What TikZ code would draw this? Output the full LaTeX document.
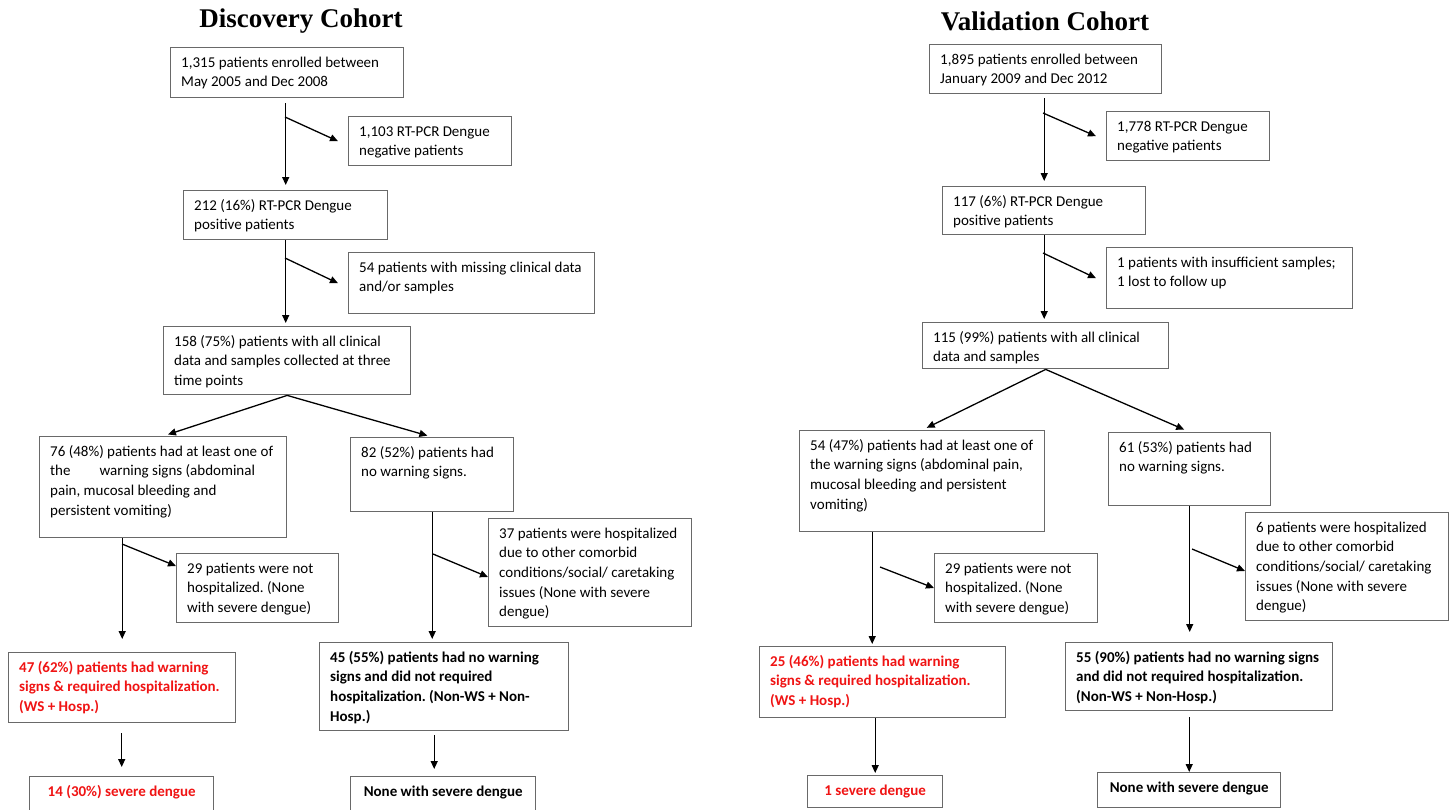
\documentclass[tikz,border=0pt]{standalone}
\usepackage{fontspec}
\setmainfont{Carlito}
\newfontfamily\ttlfont{Liberation Serif}
\usetikzlibrary{arrows.meta}
\definecolor{boxgray}{RGB}{105,105,105}
\definecolor{wred}{RGB}{240,20,20}
\frenchspacing
\newcommand\mkbox[7]{%
  \node[boxst, minimum width=#4pt, minimum height=#5pt, anchor=north west] (#1) at (#2,#3) {};
  \node[txtst, #6, anchor=base west] (#1-t) at ([shift={(11,20)}]#1.north west) {\begin{tabular}[t]{@{}l@{}}#7\end{tabular}};}
\newcommand\mkcbox[7]{%
  \node[boxst, minimum width=#4pt, minimum height=#5pt, anchor=north west] (#1) at (#2,#3) {};
  \node[txtst, #6, anchor=base] (#1-t) at ([shift={(0,20)}]#1.north) {#7};}
\begin{document}
\begin{tikzpicture}[x=1pt,y=-1pt,
  boxst/.style={draw=boxgray, line width=1.4pt, inner sep=0pt},
  txtst/.style={inner sep=0pt, font=\fontsize{15}{19.7}\selectfont\frenchspacing, text=black},
  redt/.style={text=wred, font=\fontsize{15}{19.7}\selectfont\bfseries\frenchspacing},
  boldt/.style={font=\fontsize{15}{19.7}\selectfont\bfseries\frenchspacing},
  plain/.style={},
  arr/.style={line width=1.3pt, -{Triangle[length=8pt,width=7pt]}},
  ttl/.style={font=\ttlfont\bfseries\fontsize{27}{30}\selectfont, inner sep=0pt}]
\useasboundingbox (0,0) rectangle (1450,809);
\fill[white] (0,0) rectangle (1450,809);
\clip (0,0) rectangle (1450,809);

\node[ttl] (t1) at (301,21) {Discovery Cohort};
\node[ttl] (t2) at (1045,21) {Validation Cohort};

% ---------------- Discovery cohort
\mkbox{A1}{170}{47}{233}{50}{plain}{1,315 patients enrolled between\\May 2005 and Dec 2008}
\mkbox{A2}{348}{116}{163}{49}{plain}{1,103 RT-PCR Dengue\\negative patients}
\mkbox{A3}{183}{190}{204}{49}{plain}{212 (16\%) RT-PCR Dengue\\positive patients}
\mkbox{A4}{348}{252}{246}{61}{plain}{54 patients with missing clinical data\\and/or samples}
\mkbox{A5}{163}{326}{247}{68}{plain}{158 (75\%) patients with all clinical\\data and samples collected at three\\time points}
\mkbox{A6}{39}{436}{247}{101}{plain}{76 (48\%) patients had at least one of\\the\hspace{29pt}warning signs (abdominal\\pain, mucosal bleeding and\\persistent vomiting)}
\mkbox{A7}{350}{437}{163}{74}{plain}{82 (52\%) patients had\\no warning signs.}
\mkbox{B}{176}{553}{162}{69}{plain}{29 patients were not\\hospitalized. (None\\with severe dengue)}
\mkbox{C}{488}{518}{203}{108}{plain}{37 patients were hospitalized\\due to other comorbid\\conditions/social/ caretaking\\issues (None with severe\\dengue)}
\mkbox{R1}{8}{652}{227}{70}{redt}{47 (62\%) patients had warning\\signs \& required hospitalization.\\(WS + Hosp.)}
\mkcbox{R2}{29}{776}{184}{60}{redt}{14 (30\%) severe dengue}
\mkbox{D}{319}{642}{249}{88}{boldt}{45 (55\%) patients had no warning\\signs and did not required\\hospitalization. (Non-WS + Non-\\Hosp.)}
\mkcbox{E}{350}{776}{185}{60}{boldt}{None with severe dengue}

\draw[arr, shorten <=5pt, shorten >=5pt] (A1.south -| A3.north) -- (A3.north);
\coordinate (b1s) at (285,117);
\draw[arr] (b1s) -- ([xshift=-10pt]A2.west);
\draw[arr, shorten >=3pt] (A3.south) -- (A3.south |- A5.north);
\coordinate (b2s) at (285,258);
\draw[arr] (b2s) -- ([xshift=-10pt]A4.west);
\draw[arr, shorten >=5pt] (A5.south) -- (A6.north);
\draw[arr, shorten >=5pt] (A5.south) -- (A7.north);
\draw[arr, shorten >=13pt] (A6.south -| R1.north) -- (R1.north);
\coordinate (b3s) at (122,544);
\draw[arr] (b3s) -- ([yshift=-13pt]B.north west);
\draw[arr, shorten <=10pt, shorten >=9pt] (R1.south -| R2.north) -- (R2.north);
\draw[arr, shorten >=3pt] (A7.south) -- (A7.south |- D.north);
\coordinate (b4s) at (433,554);
\draw[arr] (b4s) -- ([yshift=-59pt]C.north west);
\draw[arr, shorten <=4pt, shorten >=7pt] ([xshift=-10pt]D.south) -- ([xshift=-10pt]D.south |- E.north);

% ---------------- Validation cohort
\mkbox{V1}{929}{44}{232}{49}{plain}{1,895 patients enrolled between\\January 2009 and Dec 2012}
\mkbox{V2}{1106}{111}{163}{49}{plain}{1,778 RT-PCR Dengue\\negative patients}
\mkbox{V3}{942}{186}{203}{48}{plain}{117 (6\%) RT-PCR Dengue\\positive patients}
\mkbox{V4}{1106}{247}{246}{61}{plain}{1 patients with insufficient samples;\\1 lost to follow up}
\mkbox{V5}{922}{322}{246}{46}{plain}{115 (99\%) patients with all clinical\\data and samples}
\mkbox{V6}{799}{430}{245}{101}{plain}{54 (47\%) patients had at least one of\\the warning signs (abdominal pain,\\mucosal bleeding and persistent\\vomiting)}
\mkbox{V7}{1108}{432}{162}{73}{plain}{61 (53\%) patients had\\no warning signs.}
\mkbox{V8}{934}{553}{163}{69}{plain}{29 patients were not\\hospitalized. (None\\with severe dengue)}
\mkbox{V11}{1245}{512}{203}{108}{plain}{6 patients were hospitalized\\due to other comorbid\\conditions/social/ caretaking\\issues (None with severe\\dengue)}
\mkbox{V9}{759}{646}{246}{71}{redt}{25 (46\%) patients had warning\\signs \& required hospitalization.\\(WS + Hosp.)}
\mkcbox{V10}{807}{775}{135}{32}{redt}{1 severe dengue}
\mkbox{V12}{1065}{642}{267}{68}{boldt}{55 (90\%) patients had no warning signs\\and did not required hospitalization.\\(Non-WS + Non-Hosp.)}
\mkcbox{V13}{1097}{772}{183}{35}{boldt}{None with severe dengue}

\draw[arr, shorten <=4pt, shorten >=5pt] (V1.south -| V3.north) -- (V3.north);
\coordinate (d1s) at (1043,113);
\draw[arr] (d1s) -- ([xshift=-10pt]V2.west);
\draw[arr, shorten >=3pt] (V3.south) -- (V3.south |- V5.north);
\coordinate (d2s) at (1043,253);
\draw[arr] (d2s) -- ([xshift=-10pt]V4.west);
\draw[arr, shorten >=5pt] (V5.south) -- (V6.north);
\draw[arr, shorten >=6pt] (V5.south) -- (V7.north);
\draw[arr, shorten >=2pt] ([xshift=-50pt]V6.south) -- ([xshift=-50pt]V6.south |- V9.north);
\coordinate (d3s) at (880,567);
\draw[arr] (d3s) -- ([yshift=-35pt]V8.north west);
\draw[arr, shorten >=2pt] (V9.south -| V10.north) -- (V10.north);
\draw[arr, shorten >=10pt] (V7.south) -- (V7.south |- V12.north);
\coordinate (d4s) at (1192,549);
\draw[arr] (d4s) -- ([yshift=-59pt]V11.north west);
\draw[arr, shorten <=6pt] (V12.south -| V13.north) -- (V13.north);
\end{tikzpicture}
\end{document}
